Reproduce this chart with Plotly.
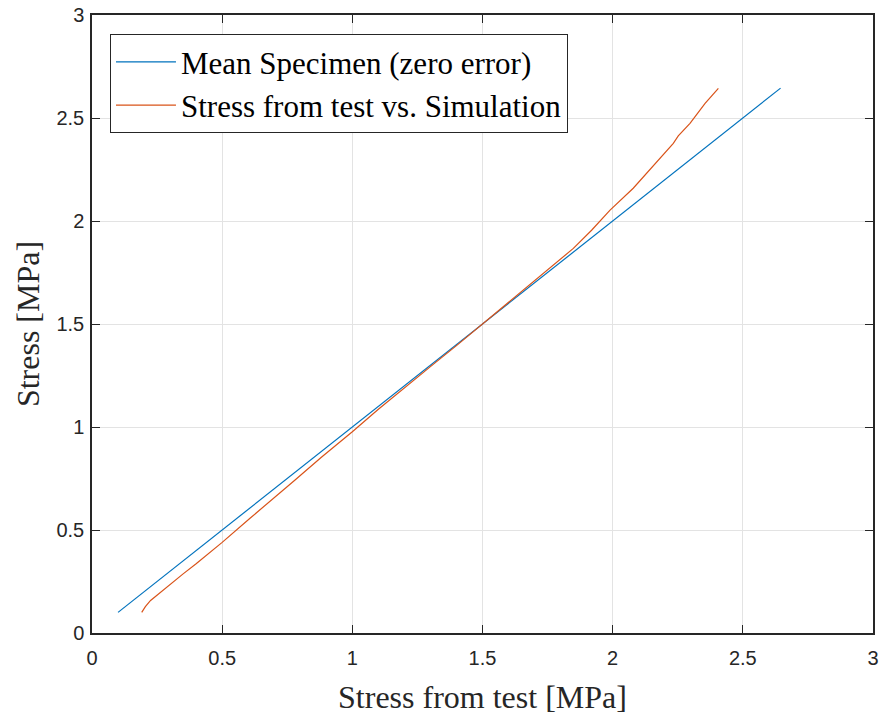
import plotly.graph_objects as go

mean_x = [0.1, 2.645]
mean_y = [0.1, 2.645]

sim_x = [0.191, 0.205, 0.225, 0.26, 0.30, 0.35, 0.40, 0.45, 0.50, 0.607, 0.722, 0.780, 0.88, 1.00, 1.10,
         1.208, 1.30, 1.40, 1.50, 1.619, 1.721, 1.849, 1.919, 1.990, 2.079, 2.169, 2.233, 2.252, 2.297,
         2.355, 2.406]
sim_y = [0.100, 0.128, 0.158, 0.195, 0.237, 0.287, 0.336, 0.388, 0.440, 0.557, 0.678, 0.743, 0.852, 0.977,
         1.086, 1.199, 1.293, 1.395, 1.500, 1.621, 1.730, 1.867, 1.955, 2.053, 2.159, 2.288, 2.377, 2.413,
         2.474, 2.571, 2.644]

tick_vals = [0, 0.5, 1, 1.5, 2, 2.5, 3]
tick_text = ["0", "0.5", "1", "1.5", "2", "2.5", "3"]

fig = go.Figure()
fig.add_trace(go.Scatter(x=mean_x, y=mean_y, mode="lines", name="Mean Specimen (zero error)",
                         line=dict(color="#0072BD", width=1.2)))
fig.add_trace(go.Scatter(x=sim_x, y=sim_y, mode="lines", name="Stress from test vs. Simulation",
                         line=dict(color="#D95319", width=1.2)))

axis_common = dict(range=[0, 3], tickvals=tick_vals, ticktext=tick_text, automargin=False,
                   showgrid=True, gridcolor="#e3e3e3", gridwidth=1,
                   showline=True, linecolor="#262626", linewidth=1.5, mirror="ticks",
                   ticks="inside", ticklen=8, tickcolor="#262626", tickwidth=1,
                   zeroline=False, tickfont=dict(family="Liberation Sans, Arial", size=20, color="#262626"))

fig.update_xaxes(**axis_common, ticklabelstandoff=6,
                 title=dict(text="Stress from test [MPa]",
                            font=dict(family="Liberation Serif, serif", size=32, color="#262626"), standoff=18))
fig.update_yaxes(**axis_common, ticklabelstandoff=2,
                 title=dict(text="Stress [MPa]",
                            font=dict(family="Liberation Serif, serif", size=32, color="#262626"), standoff=7))

fig.update_layout(width=881, height=718, plot_bgcolor="white", paper_bgcolor="white",
                  margin=dict(l=92, r=8, t=15, b=85),
                  legend=dict(x=0.023, y=0.969, xanchor="left", yanchor="top",
                              bordercolor="#262626", borderwidth=1, bgcolor="white",
                              font=dict(family="Liberation Serif, serif", size=31, color="black"),
                              tracegroupgap=0, itemwidth=60),
                  showlegend=True)

fig.write_html("out.html", config={"displayModeBar": False},
               post_script="document.body.style.margin='0';document.body.style.overflow='hidden';")
